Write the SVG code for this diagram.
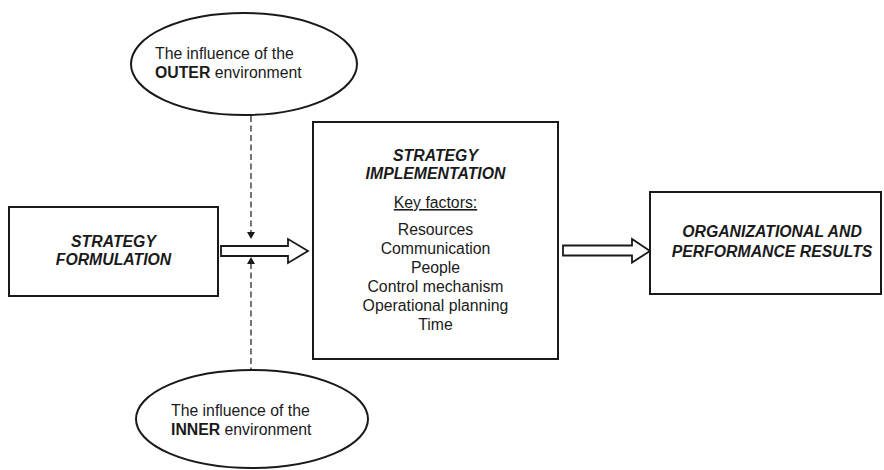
<svg xmlns="http://www.w3.org/2000/svg" width="884" height="470" viewBox="0 0 884 470">
  <style>
    .box { fill: #fff; stroke: #1a1a1a; stroke-width: 2; }
    .oval { fill: #fff; stroke: #1a1a1a; stroke-width: 2; }
    .flow { fill: #fff; stroke: #1a1a1a; stroke-width: 1.8; stroke-linejoin: miter; }
    .dash { fill: none; stroke: #1a1a1a; stroke-width: 1.2; stroke-dasharray: 6 3.5; }
    .tip { fill: #1a1a1a; }
    text { font-family: "Liberation Sans", Arial, Helvetica, sans-serif; font-size: 15.8px; fill: #1a1a1a; }
    .title { font-weight: bold; font-style: italic; text-anchor: middle; }
    .c { text-anchor: middle; }
    .b { font-weight: bold; }
  </style>

  <rect width="884" height="470" fill="#fff"/>

  <g id="connectors">
    <!-- hollow block arrows -->
    <path class="flow" d="M221,246 H288 V239 L308,251 L288,263 V256 H221 Z"/>
    <path class="flow" d="M563,245.5 H632 V239 L650,251 L632,262.5 V255.5 H563 Z"/>
    <!-- dashed influence arrows -->
    <line class="dash" x1="251" y1="116" x2="251" y2="232"/>
    <path class="tip" d="M247,232 L255,232 L251,239 Z"/>
    <line class="dash" x1="251" y1="263" x2="251" y2="369"/>
    <path class="tip" d="M247,264 L255,264 L251,257 Z"/>
  </g>

  <g id="outer-environment">
    <ellipse class="oval" cx="244" cy="64" rx="113" ry="51"/>
    <text x="155" y="59">The influence of the</text>
    <text x="155" y="78"><tspan class="b">OUTER</tspan> environment</text>
  </g>

  <g id="inner-environment">
    <ellipse class="oval" cx="252" cy="419" rx="116" ry="49"/>
    <text x="171" y="416">The influence of the</text>
    <text x="171" y="435"><tspan class="b">INNER</tspan> environment</text>
  </g>

  <g id="strategy-formulation">
    <rect class="box" x="9" y="207" width="209" height="89"/>
    <text class="title" x="113.5" y="247">STRATEGY</text>
    <text class="title" x="113.5" y="265">FORMULATION</text>
  </g>

  <g id="strategy-implementation">
    <rect class="box" x="313" y="122" width="245" height="237"/>
    <text class="title" x="435.5" y="161">STRATEGY</text>
    <text class="title" x="435.5" y="179">IMPLEMENTATION</text>
    <text class="c" x="435.5" y="208" text-decoration="underline">Key factors:</text>
    <text class="c" x="435.5" y="235">Resources</text>
    <text class="c" x="435.5" y="254">Communication</text>
    <text class="c" x="435.5" y="273">People</text>
    <text class="c" x="435.5" y="292">Control mechanism</text>
    <text class="c" x="435.5" y="311">Operational planning</text>
    <text class="c" x="435.5" y="330">Time</text>
  </g>

  <g id="results">
    <rect class="box" x="650" y="192" width="231" height="102"/>
    <text class="title" x="772" y="237">ORGANIZATIONAL AND</text>
    <text class="title" x="772" y="257">PERFORMANCE RESULTS</text>
  </g>
</svg>
